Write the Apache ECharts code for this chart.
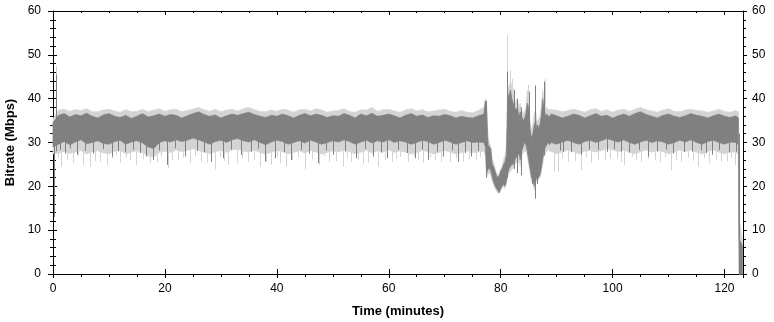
<!DOCTYPE html>
<html>
<head>
<meta charset="utf-8">
<script src="https://cdn.jsdelivr.net/npm/echarts@6/dist/echarts.min.js"></script>
<style>
  html, body { margin: 0; padding: 0; background: #fff; }
  #chart { width: 774px; height: 322px; }
</style>
</head>
<body>
<div id="chart"></div>
<script>
// sample times (minutes): steady part, disturbed part, steady part + tail
const minutesA = [0, 1, 2, 3, 4, 5, 6, 7, 8, 9, 10, 11, 12, 13, 14, 15, 16, 17, 18, 19,
  20, 21, 22, 23, 24, 25, 26, 27, 28, 29, 30, 31, 32, 33, 34, 35, 36, 37, 38, 39,
  40, 41, 42, 43, 44, 45, 46, 47, 48, 49, 50, 51, 52, 53, 54, 55, 56, 57, 58, 59,
  60, 61, 62, 63, 64, 65, 66, 67, 68, 69, 70, 71, 72, 73, 74, 75, 76];
const minutesMid = [77, 77.25, 77.5, 77.75, 78, 78.25, 78.5, 78.75, 79, 79.25, 79.5, 79.75,
  80, 80.25, 80.5, 80.75, 81, 81.25, 81.5, 81.75, 82, 82.25, 82.5, 82.75, 83, 83.25, 83.5, 83.75,
  84, 84.25, 84.5, 84.75, 85, 85.25, 85.5, 85.75, 86, 86.25, 86.5, 86.75, 87, 87.25, 87.5, 87.75,
  88, 88.25, 88.5, 88.75, 89];
const minutesB = [90, 91, 92, 93, 94, 95, 96, 97, 98, 99, 100, 101, 102, 103, 104, 105, 106, 107, 108, 109,
  110, 111, 112, 113, 114, 115, 116, 117, 118, 119, 120, 121, 122, 122.5, 122.6, 123.2];

// dense core (dark grey) envelope, Mbps
const darkHiA = [34.5, 36.2, 36.6, 35.8, 36.4, 36.1, 36.7, 36.0, 35.6, 36.3,
  36.6, 36.0, 35.7, 36.2, 35.5, 36.0, 36.6, 35.8, 36.1, 36.5,
  36.0, 36.4, 36.2, 35.6, 36.1, 36.6, 37.0, 36.4, 36.0, 36.3,
  35.6, 36.1, 36.5, 36.2, 36.6, 36.9, 36.4, 36.0, 35.7, 36.2,
  36.0, 36.5, 36.1, 35.6, 36.2, 36.6, 36.1, 36.5, 36.2, 35.7,
  36.1, 36.0, 36.6, 36.2, 35.6, 36.5, 36.1, 36.7, 36.0, 36.2,
  36.5, 36.1, 35.6, 36.2, 36.6, 36.0, 36.3, 35.7, 36.1, 36.0,
  36.4, 36.1, 35.6, 36.0, 35.7, 35.6, 36.1];
const darkLoA = [29, 29.6, 30.2, 29.5, 30.1, 30.6, 29.7, 30.0, 30.4, 29.8,
  29.6, 30.2, 30.5, 29.6, 30.1, 30.4, 29.9, 29.0, 28.6, 30.0,
  30.4, 30.1, 30.6, 30.2, 30.5, 31.0, 30.6, 30.1, 29.6, 30.2,
  30.5, 30.0, 30.6, 30.9, 30.4, 30.1, 30.6, 30.0, 29.5, 30.1,
  30.5, 30.2, 29.6, 30.0, 30.4, 29.9, 30.5, 30.1, 29.6, 30.0,
  30.4, 30.1, 30.6, 30.2, 29.6, 30.1, 30.5, 29.9, 30.4, 30.1,
  30.6, 30.0, 30.4, 30.1, 29.6, 30.0, 30.5, 30.2, 29.6, 30.0,
  30.5, 30.1, 29.6, 30.0, 30.4, 30.0, 30.1];
const darkHiMid = [36.5, 39.5, 37, 29.5, 29, 28.5, 25, 24.5, 23.5, 22.5, 22, 22.5,
  23.5, 24, 25, 25.5, 27, 40, 41, 42, 40, 39, 38, 37.5, 38, 36, 37, 36,
  35, 35.5, 36.5, 39, 38, 33, 31, 32, 34, 35, 33, 33.5, 34, 36, 40, 38,
  36, 36.5, 36, 36, 36.5];
const darkLoMid = [30, 29, 23, 24, 24, 23.5, 22, 21, 20, 19.5, 19, 18.5,
  19.5, 20, 20.5, 20, 21, 23, 24, 24.5, 25, 25, 26, 26.5, 27, 27.5, 26, 28,
  29, 30, 29.5, 28, 26, 24, 22, 21.5, 20, 22, 21.5, 22, 22.5, 24, 26, 28,
  29, 29.5, 30, 29.5, 30];
const darkHiB = [36.1, 35.6, 36.0, 36.5, 36.2, 35.6, 36.1, 36.6, 36.0, 36.2,
  35.6, 36.1, 36.5, 36.0, 36.6, 37.0, 36.4, 36.0, 35.6, 36.2,
  36.5, 36.0, 35.7, 36.1, 36.6, 36.2, 36.0, 35.6, 36.1, 36.5,
  36.0, 35.7, 36.1, 35.6, 8, 6.5];
const darkLoB = [29.6, 30.1, 30.5, 30.0, 29.6, 30.2, 30.5, 30.0, 30.4, 30.9,
  30.5, 30.1, 30.6, 30.0, 29.6, 30.1, 30.5, 30.0, 30.4, 30.1,
  29.6, 30.0, 30.5, 30.1, 30.6, 30.0, 29.6, 30.2, 30.5, 30.0,
  29.6, 30.1, 30.0, 29.5, 0, 0];

// full spread (light grey) envelope, Mbps
const lightHiA = [35.5, 37.4, 37.6, 37.1, 37.5, 37.3, 37.7, 37.0, 37.0, 37.4,
  37.6, 37.2, 36.9, 37.5, 37.0, 37.1, 37.6, 37.0, 37.4, 37.7,
  37.1, 37.5, 37.6, 37.0, 37.3, 37.6, 38.0, 37.5, 37.1, 37.6,
  37.0, 37.4, 37.6, 37.2, 37.7, 38.0, 37.5, 37.1, 37.0, 37.4,
  37.1, 37.6, 37.4, 36.9, 37.5, 37.6, 37.2, 37.7, 37.4, 36.9,
  37.2, 37.3, 37.7, 37.1, 36.9, 37.5, 37.4, 38.0, 37.1, 37.5,
  37.6, 37.2, 36.9, 37.4, 37.7, 37.2, 37.5, 37.0, 37.2, 37.4,
  37.6, 37.1, 36.9, 37.3, 36.9, 36.8, 37.3];
const lightLoA = [27.4, 27.6, 28.0, 27.5, 27.8, 28.2, 27.4, 27.9, 28.1, 27.6,
  27.4, 28.0, 28.2, 27.4, 27.8, 28.1, 27.7, 27.0, 26.7, 27.7,
  28.0, 27.7, 28.3, 27.9, 28.2, 28.6, 28.2, 27.8, 27.4, 27.9,
  28.2, 27.7, 28.3, 28.5, 28.0, 27.8, 28.3, 27.7, 27.3, 27.8,
  28.2, 27.9, 27.4, 27.7, 28.1, 27.6, 28.2, 27.8, 27.4, 27.7,
  28.1, 27.8, 28.3, 27.9, 27.4, 27.8, 28.2, 27.6, 28.1, 27.8,
  28.3, 27.7, 28.1, 27.8, 27.4, 27.7, 28.2, 27.9, 27.4, 27.7,
  28.2, 27.8, 27.4, 27.7, 28.1, 27.7, 27.8];
const lightHiMid = [38, 40, 39, 31, 30, 29, 26, 25.5, 24, 23, 22.5, 23,
  24, 24.5, 26, 27, 29, 42, 43, 44, 43, 42, 40, 39, 40, 38, 39, 37.5,
  36.5, 37, 38, 42, 40, 35, 33, 34, 37, 37, 35, 35, 36, 38, 42, 40,
  37.5, 38, 37.5, 37.5, 37.5];
const lightLoMid = [28, 27, 22, 23, 23, 22.5, 21, 20.5, 19.5, 19, 18.5, 18.5,
  19, 19.5, 20, 19.5, 20.5, 22, 23, 23.5, 24, 24, 25, 25.5, 25, 26, 24.5, 27,
  27.5, 28, 28, 27, 25, 23, 21, 21, 19, 21, 21, 21.5, 22, 23, 25, 27,
  27.5, 28, 28.5, 28, 28];
const lightHiB = [37.4, 37.0, 37.3, 37.6, 37.3, 36.9, 37.5, 37.7, 37.1, 37.5,
  36.9, 37.4, 37.6, 37.1, 37.6, 38.0, 37.5, 37.2, 36.9, 37.4,
  37.7, 37.1, 37.0, 37.4, 37.6, 37.3, 37.2, 36.9, 37.2, 37.6,
  37.1, 36.9, 37.3, 37.0, 12.5, 8];
const lightLoB = [27.4, 27.8, 28.3, 27.9, 27.4, 28.0, 28.2, 27.8, 28.2, 28.6,
  28.3, 27.9, 28.3, 27.8, 27.4, 27.9, 28.3, 27.8, 28.2, 27.9,
  27.4, 27.8, 28.3, 27.9, 28.3, 27.8, 27.4, 28.0, 28.3, 27.8,
  27.4, 27.9, 27.8, 27.2, 0, 0];

// single-sample excursions: [minute, low, high]
const lightSpikes = [[0.55, 30, 47.5], [0.9, 26.5, 30], [1.5, 24.5, 30], [2.5, 26, 30], [3.6, 25.3, 30],
  [4.5, 27, 30], [5.4, 24.9, 30], [6.6, 24.5, 30], [7.5, 25.8, 30], [8.4, 25.6, 30], [9.6, 24.9, 30],
  [10.5, 26.4, 30], [11.2, 27.2, 30], [12, 25.3, 30], [13, 26.6, 30], [13.7, 26, 30], [14.9, 24.9, 30],
  [16, 26.2, 30], [17.3, 25.3, 30], [18.5, 25.5, 30], [19.3, 26.8, 30], [20.5, 24.1, 30], [21.3, 25.9, 30],
  [22.3, 26, 30], [23.3, 26.5, 30], [24.4, 25.3, 30], [25.3, 26.9, 30], [26.5, 25.6, 30], [27.5, 25.4, 30],
  [28.9, 23.8, 30], [29.8, 26.6, 30], [30.5, 25.8, 30], [31.3, 24.9, 30], [32.8, 25.3, 30], [33.8, 26.3, 30],
  [34.9, 25.6, 30], [36, 26, 30], [37, 24.5, 30], [38, 25.7, 30], [39, 24.9, 30], [40, 26.8, 30],
  [40.5, 25.3, 30], [41.7, 24.5, 30], [42.7, 25.9, 30], [43.8, 26.6, 30], [45, 23.8, 30], [46.3, 26.2, 30],
  [47.6, 24.9, 30], [48.5, 26.9, 30], [49.4, 25.6, 30], [50.5, 25.8, 30], [51.8, 24.5, 30], [52.6, 26.5, 30],
  [53.3, 25.6, 30], [54.5, 26.1, 30], [55.4, 25.2, 30], [56.3, 25.3, 30], [57.2, 26.6, 30], [58.1, 24.5, 30],
  [59.3, 26, 30], [60.5, 25.6, 30], [61.3, 26.3, 30], [62, 26.8, 30], [63.4, 25.6, 30], [64.5, 26.9, 30],
  [65.3, 26, 30], [66.1, 25.3, 30], [67.3, 26.6, 30], [68.2, 26, 30], [69.3, 25.6, 30], [70.9, 25.6, 30],
  [72, 26.4, 30], [73.2, 25.6, 30], [74.3, 26.1, 30], [75.6, 26, 30], [76.3, 26.6, 30],
  [81.1, 30, 54.5], [81.7, 35, 46.5], [82.1, 35, 44.5], [84.9, 35, 43.2], [87.9, 35, 44.5], [89.6, 23.5, 30],
  [90.2, 23.3, 30], [91, 26.4, 30], [92, 25.6, 30], [93.2, 25.8, 30], [94.4, 23.7, 30], [95.3, 26.6, 30],
  [96.2, 25.3, 30], [97.3, 26, 30], [98.6, 26, 30], [99.5, 26.3, 30], [100.7, 26.4, 30], [101.5, 25.6, 30],
  [102.1, 24.9, 30], [103.4, 26.8, 30], [104.2, 26, 30], [105.1, 25.6, 30], [106.3, 26.2, 30],
  [107.5, 26, 30], [108.5, 25.5, 30], [109.3, 26.7, 30], [110.5, 23.7, 30], [111.4, 25.9, 30],
  [112.3, 25.6, 30], [113.5, 26.5, 30], [114.3, 25.8, 30], [115.3, 24.5, 30], [116.4, 26.4, 30],
  [117.3, 25.3, 30], [118.4, 26, 30], [119.4, 25.6, 30], [120.5, 25.7, 30], [121.2, 26.6, 30], [121.8, 24.9, 30]];
const darkSpikes = [[0.1, 13, 34], [0.6, 28, 45.5], [1.2, 28.3, 31], [2.1, 27.5, 31], [3.1, 28.6, 31],
  [4.2, 27.2, 31], [5.8, 28.1, 31], [7.2, 27.5, 31], [8.9, 28.5, 31], [10.5, 26.8, 31], [11.6, 28, 31],
  [12.9, 27.9, 31], [14.3, 28.4, 31], [15.5, 27.6, 31], [16.7, 26.8, 31], [17.9, 26, 31], [19, 28.2, 31],
  [20.3, 24.9, 31], [21.8, 28.7, 31], [23.5, 26.8, 31], [25.7, 28.1, 31], [27, 27.8, 31], [28.3, 25.6, 31],
  [30.4, 26.4, 31], [31.8, 28.4, 31], [33.6, 27.2, 31], [35.4, 27.9, 31], [36.6, 28.6, 31], [37.8, 25.6, 31],
  [39.6, 26.4, 31], [41.2, 27.8, 31], [42.6, 26, 31], [44.4, 28.3, 31], [45.8, 27.5, 31], [47.3, 25.3, 31],
  [48.8, 28.2, 31], [50, 27.2, 31], [52.2, 27.9, 31], [54.2, 26.4, 31], [55.8, 28.5, 31], [57.2, 26.8, 31],
  [58.6, 27.7, 31], [59.6, 26.4, 31], [61.7, 28.3, 31], [63.2, 27.6, 31], [64.6, 26.4, 31], [66, 28.4, 31],
  [67, 26, 31], [68.6, 27.9, 31], [69.7, 26.8, 31], [71.3, 28.2, 31], [72.4, 25.6, 31], [73.6, 27.6, 31],
  [74.7, 26.8, 31], [75.9, 28.1, 31],
  [77.4, 22, 39.5], [81.1, 22, 46.2], [82.3, 24, 42], [83, 23, 40], [83.6, 22.5, 38], [85, 25.3, 41.6],
  [85.6, 20.5, 30], [86.1, 17.2, 43], [86.5, 20.5, 34], [87.8, 27, 43.9],
  [90.6, 28.2, 31], [91.1, 27.9, 31], [92.6, 27.8, 31], [94.4, 27.2, 31], [95.8, 28.4, 31], [97.4, 28.3, 31],
  [99, 27.9, 31], [100.3, 28.5, 31], [101.5, 27.9, 31], [103, 27.7, 31], [104.8, 28.3, 31], [106.3, 26.8, 31],
  [107.9, 27.9, 31], [109.5, 28.4, 31], [110.8, 27.5, 31], [112.8, 27.8, 31], [114.1, 27.9, 31],
  [115.8, 28.2, 31], [116.7, 27.6, 31], [117.7, 27.2, 31], [119, 28.3, 31], [120.8, 27.7, 31],
  [122.1, 27.9, 31], [122.55, 0, 32]];

const minutes = minutesA.concat(minutesMid, minutesB);
const darkLo = darkLoA.concat(darkLoMid, darkLoB);
const darkHi = darkHiA.concat(darkHiMid, darkHiB);
const lightLo = lightLoA.concat(lightLoMid, lightLoB);
const lightHi = lightHiA.concat(lightHiMid, lightHiB);

const LIGHT = '#d4d4d4';
const DARK = '#808080';
const FONT = 'Liberation Sans, Arial, sans-serif';

// whole band as one polygon: upper envelope forward, lower envelope back
function bandSeries(lo, hi, color) {
  const rows = minutes.map((t, i) => [t, lo[i], hi[i]]);
  return {
    type: 'custom',
    silent: true,
    data: rows,
    encode: { x: 0, y: [1, 2] },
    renderItem: function (params, api) {
      if (params.dataIndex !== 0) return;
      const top = rows.map(r => api.coord([r[0], r[2]]));
      const bottom = rows.map(r => api.coord([r[0], r[1]])).reverse();
      return {
        type: 'polygon',
        shape: { points: top.concat(bottom) },
        style: { fill: color, stroke: color, lineWidth: 0.6 }
      };
    }
  };
}

function spikeSeries(list, color) {
  return {
    type: 'custom',
    silent: true,
    data: list,
    encode: { x: 0, y: [1, 2] },
    renderItem: function (params, api) {
      const a = api.coord([api.value(0), api.value(1)]);
      const b = api.coord([api.value(0), api.value(2)]);
      const x = Math.round(a[0]) + 0.5;
      return { type: 'line', shape: { x1: x, y1: a[1], x2: x, y2: b[1] }, style: { stroke: color, lineWidth: 1 } };
    }
  };
}

const black = { color: '#000', width: 1 };
const tickLabel = { color: '#000', fontFamily: FONT, fontSize: 12 };
const titleStyle = { color: '#000', fontFamily: FONT, fontSize: 13, fontWeight: 'bold' };

function xAx(extra) {
  return Object.assign({
    type: 'value', min: 0, max: 123.3, interval: 20,
    splitLine: { show: false },
    axisLine: { show: true, onZero: false, lineStyle: black },
    axisTick: { show: true, length: 4, lineStyle: black },
    minorTick: { show: true, splitNumber: 4, length: 3, lineStyle: black },
    axisLabel: { show: false }
  }, extra);
}
function yAx(extra) {
  return Object.assign({
    type: 'value', min: 0, max: 60, interval: 10,
    splitLine: { show: false },
    axisLine: { show: true, onZero: false, lineStyle: black },
    axisTick: { show: true, length: 5, lineStyle: black },
    minorTick: { show: true, splitNumber: 5, length: 3, lineStyle: black },
    axisLabel: { show: false }
  }, extra);
}

const chart = echarts.init(document.getElementById('chart'), null, { renderer: 'canvas' });
chart.setOption({
  animation: false,
  backgroundColor: '#fff',
  textStyle: { fontFamily: FONT },
  grid: { left: 53, right: 31, top: 11, bottom: 48, containLabel: false, outerBoundsMode: 'none' },
  xAxis: [
    xAx({
      position: 'bottom',
      name: 'Time (minutes)', nameLocation: 'middle', nameGap: 31, nameTextStyle: titleStyle,
      axisLabel: Object.assign({ show: true, margin: 9, showMaxLabel: false }, tickLabel)
    }),
    xAx({ position: 'bottom', axisLine: { show: false }, axisTick: { show: true, inside: true, length: 5, lineStyle: black }, minorTick: { show: false } }),
    xAx({ position: 'top', axisTick: { show: true, inside: true, length: 4, lineStyle: black }, minorTick: { show: true, splitNumber: 4, length: 2, lineStyle: black } })
  ],
  yAxis: [
    yAx({
      position: 'left',
      name: 'Bitrate (Mbps)', nameLocation: 'middle', nameGap: 35, nameTextStyle: titleStyle,
      axisLabel: Object.assign({ show: true, margin: 12 }, tickLabel)
    }),
    yAx({ position: 'left', axisLine: { show: false }, axisTick: { show: true, inside: true, length: 4, lineStyle: black }, minorTick: { show: true, splitNumber: 5, length: 3, lineStyle: black } }),
    yAx({
      position: 'right', axisTick: { show: true, length: 4, lineStyle: black },
      axisLabel: Object.assign({ show: true, margin: 9 }, tickLabel)
    }),
    yAx({ position: 'right', axisLine: { show: false }, axisTick: { show: true, inside: true, length: 5, lineStyle: black }, minorTick: { show: true, splitNumber: 5, length: 3, lineStyle: black } })
  ],
  series: [
    bandSeries(lightLo, lightHi, LIGHT),
    spikeSeries(lightSpikes, LIGHT),
    bandSeries(darkLo, darkHi, DARK),
    spikeSeries(darkSpikes, DARK)
  ]
});
</script>
</body>
</html>
